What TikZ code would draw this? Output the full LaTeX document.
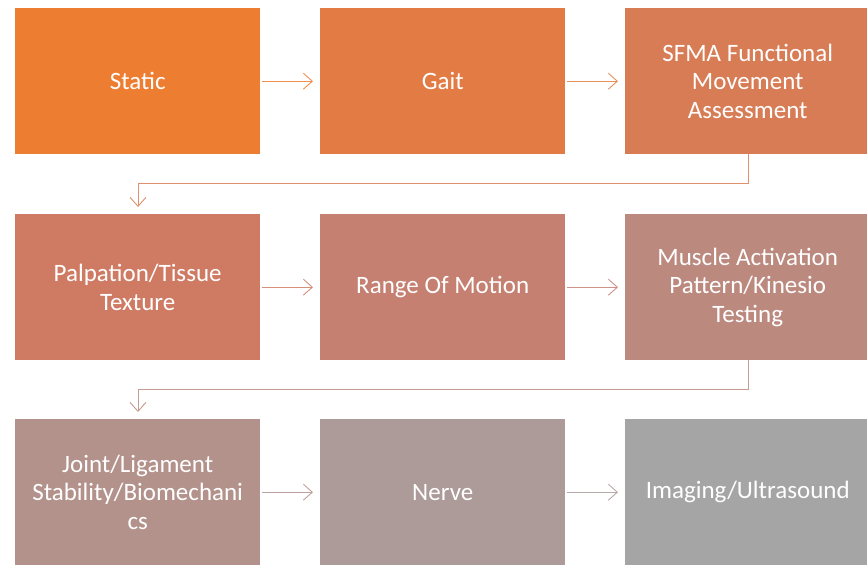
\documentclass[tikz,border=0pt]{standalone}
\usepackage{fontspec}
\setmainfont{Carlito}
\usetikzlibrary{arrows.meta}
\definecolor{c1}{RGB}{237,125,49}
\definecolor{c2}{RGB}{226,124,68}
\definecolor{c3}{RGB}{216,124,86}
\definecolor{c4}{RGB}{207,123,100}
\definecolor{c5}{RGB}{197,128,113}
\definecolor{c6}{RGB}{188,137,127}
\definecolor{c7}{RGB}{179,146,140}
\definecolor{c8}{RGB}{172,155,153}
\definecolor{c9}{RGB}{165,165,165}
\tikzset{
  box/.style={fill=#1, draw=none, minimum width=245pt, minimum height=146pt, anchor=north west, inner sep=0pt,
    text=white, align=center, font=\fontsize{25}{28.5}\selectfont},
  conn/.style={draw=#1!85!white, line width=0.9pt, -{Straight Barb[length=9pt,width=16pt,line width=0.9pt]}},
}
\begin{document}
\begin{tikzpicture}[x=1pt,y=1pt]
\useasboundingbox (0,0) rectangle (867,-565);
\node[box=c1] (b1) at (15,-8) {Static};
\node[box=c2] (b2) at (320,-8) {Gait};
\node[box=c3] (b3) at (625,-8) {SFMA Functional\\Movement\\Assessment};
\node[box=c4] (b4) at (15,-214) {Palpation/Tissue\\Texture};
\node[box=c5] (b5) at (320,-214) {Range Of Motion};
\node[box=c6] (b6) at (625,-214) {Muscle Activation\\Pattern/Kinesio\\Testing};
\node[box=c7] (b7) at (15,-419) {Joint/Ligament\\Stability/Biomechani\\cs};
\node[box=c8] (b8) at (320,-419) {Nerve};
\node[box=c9] (b9) at (625,-419) {Imaging/Ultrasound};
\coordinate (k1) at (748,-183);
\coordinate (k2) at (138,-183);
\coordinate (k3) at (748,-389);
\coordinate (k4) at (138,-389);
\draw[conn=c1] ([xshift=2pt]b1.east) -- ([xshift=-7pt]b2.west);
\draw[conn=c2] ([xshift=2pt]b2.east) -- ([xshift=-7pt]b3.west);
\draw[conn=c3] (b3.south -| k1) -- (k1) -- (k2) -- ([yshift=7pt]b4.north -| k2);
\draw[conn=c4] ([xshift=2pt]b4.east) -- ([xshift=-7pt]b5.west);
\draw[conn=c5] ([xshift=2pt]b5.east) -- ([xshift=-7pt]b6.west);
\draw[conn=c6] (b6.south -| k3) -- (k3) -- (k4) -- ([yshift=7pt]b7.north -| k4);
\draw[conn=c7] ([xshift=2pt]b7.east) -- ([xshift=-7pt]b8.west);
\draw[conn=c8] ([xshift=2pt]b8.east) -- ([xshift=-7pt]b9.west);
\end{tikzpicture}
\end{document}
